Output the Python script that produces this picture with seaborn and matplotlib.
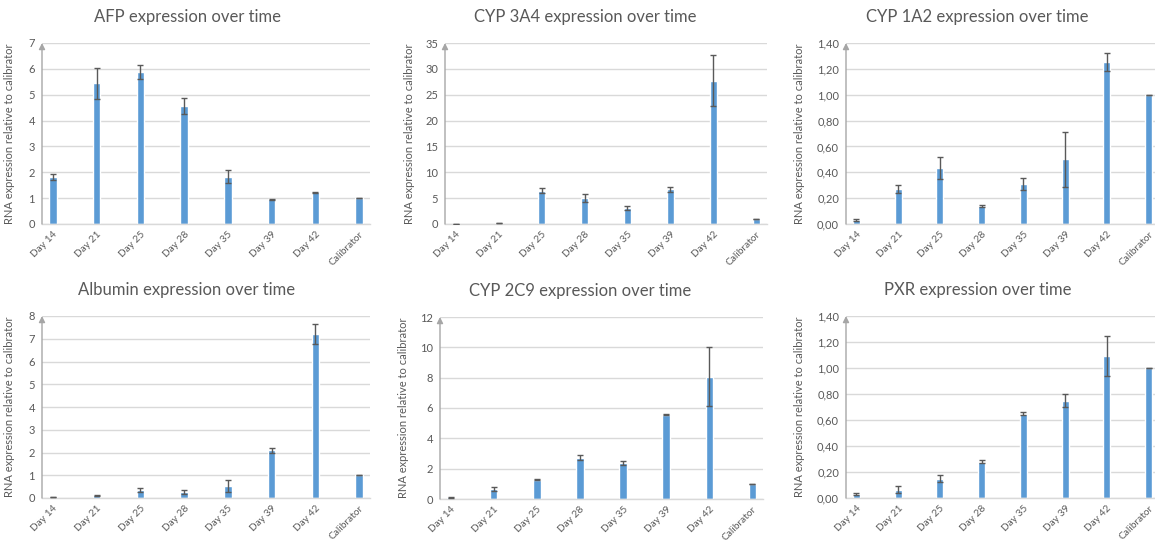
import matplotlib
matplotlib.use("Agg")
import matplotlib.pyplot as plt
import seaborn as sns
import numpy as np
from matplotlib.ticker import FuncFormatter

categories = ["Day 14", "Day 21", "Day 25", "Day 28", "Day 35", "Day 39", "Day 42", "Calibrator"]

afp_vals = [1.82, 5.45, 5.87, 4.57, 1.82, 0.95, 1.22, 1.00]
afp_err = [0.10, 0.60, 0.28, 0.30, 0.25, 0.02, 0.01, 0.0]

cyp3a4_vals = [0.02, 0.15, 6.4, 5.0, 3.1, 6.7, 27.7, 1.0]
cyp3a4_err = [0.0, 0.05, 0.5, 0.8, 0.3, 0.5, 4.9, 0.0]

cyp1a2_vals = [0.03, 0.27, 0.43, 0.14, 0.31, 0.50, 1.25, 1.00]
cyp1a2_err = [0.005, 0.03, 0.085, 0.01, 0.045, 0.215, 0.07, 0.0]

alb_vals = [0.05, 0.12, 0.35, 0.27, 0.52, 2.10, 7.20, 1.00]
alb_err = [0.0, 0.03, 0.09, 0.08, 0.25, 0.10, 0.45, 0.0]

cyp2c9_vals = [0.10, 0.65, 1.28, 2.72, 2.38, 5.55, 8.05, 1.00]
cyp2c9_err = [0.02, 0.13, 0.01, 0.18, 0.15, 0.03, 1.95, 0.0]

pxr_vals = [0.03, 0.065, 0.15, 0.28, 0.65, 0.75, 1.09, 1.00]
pxr_err = [0.01, 0.025, 0.03, 0.01, 0.01, 0.05, 0.155, 0.0]

titles = ["AFP expression over time", "CYP 3A4 expression over time", "CYP 1A2 expression over time",
          "Albumin expression over time", "CYP 2C9 expression over time", "PXR expression over time"]
ylabel = "RNA expression relative to calibrator"

sns.set_theme(style="white")
plt.rcParams["font.family"] = ["Lato", "DejaVu Sans"]

W, H = 1155, 542
fig = plt.figure(figsize=(W / 100, H / 100), dpi=100)
fig.patch.set_facecolor("white")

# (left, right, top, bottom) in pixels, ylabel x, title center x, title y, ymax, ystep, comma
panels = [
    (afp_vals, afp_err, (42, 370, 43, 224), 15, 187, 17, 7, 1, False),
    (cyp3a4_vals, cyp3a4_err, (445, 767, 43, 224), 415, 585, 17, 35, 5, False),
    (cyp1a2_vals, cyp1a2_err, (846, 1159, 43, 224), 805, 977, 17, 1.4, 0.2, True),
    (alb_vals, alb_err, (42, 370, 316, 498), 15, 187, 290, 8, 1, False),
    (cyp2c9_vals, cyp2c9_err, (440, 763, 317, 499), 409, 580, 291, 12, 2, False),
    (pxr_vals, pxr_err, (846, 1159, 316, 498), 805, 978, 290, 1.4, 0.2, True),
]

text_col = "#595959"
grid_col = "#D9D9D9"
bar_col = "#5B9BD5"

for i, (vals, errs, (l, r, t, b), ylx, tx, ty, ymax, ystep, comma) in enumerate(panels):
    ax = fig.add_axes([l / W, 1 - b / H, (r - l) / W, (b - t) / H])
    sns.barplot(x=categories, y=vals, color=bar_col, saturation=1, width=0.17, ax=ax, order=categories)
    ax.errorbar(np.arange(len(categories)), vals, yerr=errs, fmt="none", ecolor=text_col,
                elinewidth=1, capsize=2.5, capthick=1, zorder=5)
    ax.set_xlim(-0.25, 7.25)
    ax.set_ylim(0, ymax)
    ticks = np.arange(0, ymax + ystep / 2, ystep)
    ax.set_yticks(ticks)
    if comma:
        ax.yaxis.set_major_formatter(FuncFormatter(lambda v, p: f"{v:.2f}".replace(".", ",")))
    else:
        ax.yaxis.set_major_formatter(FuncFormatter(lambda v, p: f"{v:g}"))
    ax.yaxis.grid(True, color=grid_col, lw=1)
    ax.set_axisbelow(True)
    for s in ["top", "right", "left"]:
        ax.spines[s].set_visible(False)
    ax.spines["bottom"].set_color(grid_col)
    ax.spines["bottom"].set_linewidth(1)
    ax.annotate("", xy=(0, 1.0), xytext=(0, 0), xycoords="axes fraction",
                arrowprops=dict(arrowstyle="-|>", color="#A6A6A6", lw=1, mutation_scale=9,
                                shrinkA=0, shrinkB=0))
    ax.tick_params(axis="both", length=0, colors=text_col, labelsize=8)
    ax.tick_params(axis="y", pad=5)
    ax.tick_params(axis="x", pad=4)
    for lab in ax.get_xticklabels():
        lab.set_rotation(45)
        lab.set_ha("right")
        lab.set_rotation_mode("anchor")
        lab.set_fontsize(7.3)
    ax.set_xlabel("")
    ax.set_ylabel(ylabel, color=text_col, fontsize=8)
    ax.yaxis.set_label_coords((ylx - l) / (r - l), 0.5)
    fig.text(tx / W, 1 - ty / H, titles[i], ha="center", va="center", fontsize=12, color=text_col)

fig.savefig("out.png", dpi=100)
